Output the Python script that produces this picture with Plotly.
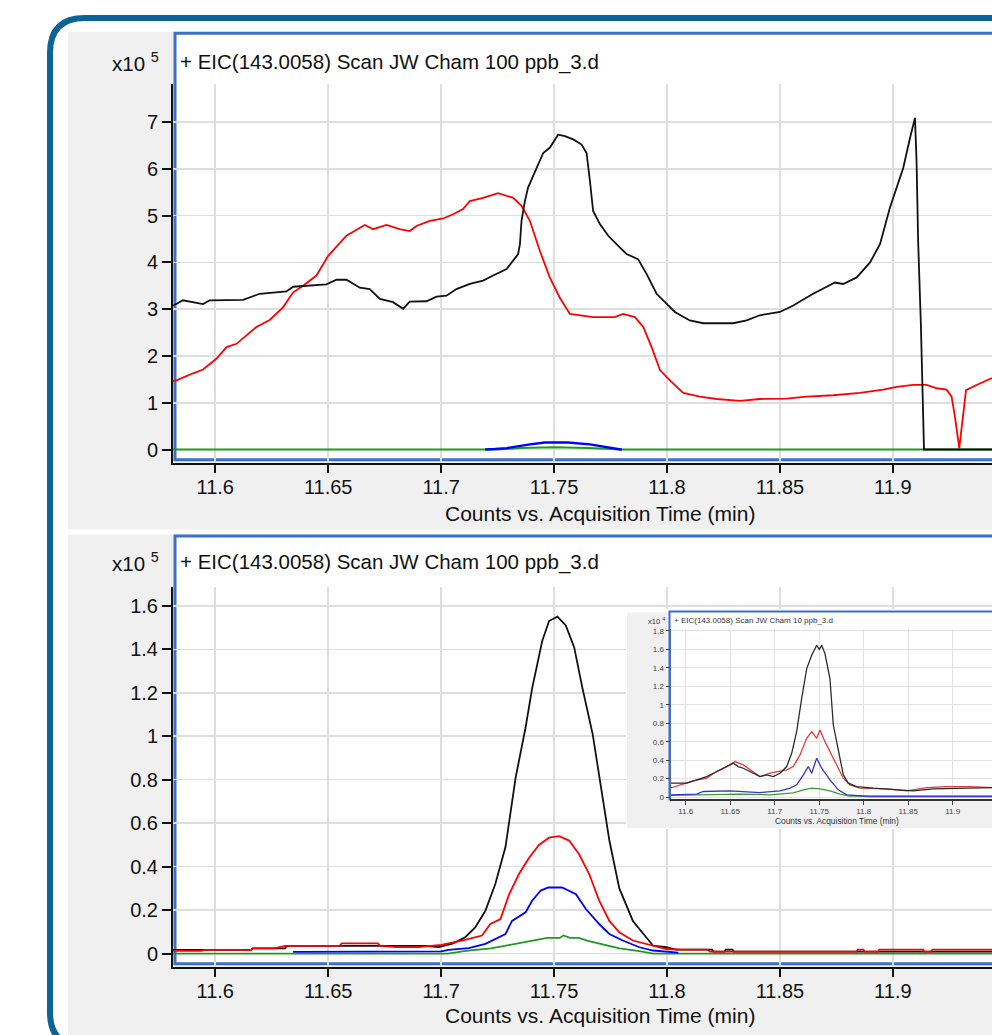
import plotly.graph_objects as go

W, H = 992, 1035

def px(x):
    return x / W

def py(y):
    return 1 - y / H

# ---------------- data: top chart (x10^5 counts) ----------------
top_black_t = [11.5813, 11.5828, 11.5857, 11.5946, 11.5976, 11.6123, 11.6197, 11.6315, 11.6345, 11.6492,
               11.6537, 11.6581, 11.664, 11.6684, 11.6729, 11.6787, 11.6832, 11.6861, 11.6935, 11.698,
               11.7024, 11.7068, 11.7127, 11.7186, 11.723, 11.729, 11.7341, 11.7349, 11.7356, 11.7371,
               11.7385, 11.7422, 11.7452, 11.7481, 11.7518, 11.7548, 11.7585, 11.7622, 11.7644, 11.7659,
               11.7673, 11.7703, 11.774, 11.7791, 11.7821, 11.7872, 11.791, 11.7954, 11.7998, 11.8035,
               11.8101, 11.816, 11.822, 11.8293, 11.8353, 11.8411, 11.85, 11.8559, 11.8647, 11.8707,
               11.8744, 11.878, 11.884, 11.8899, 11.8943, 11.8987, 11.9017, 11.9046, 11.9076, 11.9098,
               11.9105, 11.9112, 11.9124, 11.9132, 11.9138, 11.9439]
top_black_v = [3.08, 3.11, 3.19, 3.11, 3.19, 3.2, 3.33, 3.38, 3.48, 3.53,
               3.63, 3.63, 3.46, 3.43, 3.22, 3.15, 3.01, 3.16, 3.17, 3.27,
               3.29, 3.43, 3.54, 3.61, 3.72, 3.86, 4.18, 4.39, 4.89, 5.31,
               5.6, 6.02, 6.34, 6.45, 6.73, 6.7, 6.63, 6.52, 6.34, 5.74,
               5.1, 4.82, 4.57, 4.32, 4.18, 4.07, 3.75, 3.33, 3.11, 2.94,
               2.76, 2.7, 2.7, 2.7, 2.76, 2.87, 2.94, 3.08, 3.33, 3.47,
               3.57, 3.54, 3.68, 4.0, 4.39, 5.17, 5.6, 6.02, 6.66, 7.09,
               6.16, 4.46, 2.69, 0.88, 0.0, 0.0]

top_red_t = [11.5813, 11.5828, 11.5902, 11.5946, 11.6005, 11.605, 11.6094, 11.6182, 11.6241, 11.63,
             11.6345, 11.6389, 11.6448, 11.65, 11.6581, 11.6662, 11.6699, 11.6758, 11.6817, 11.6861,
             11.6891, 11.695, 11.7009, 11.7053, 11.7097, 11.7127, 11.7186, 11.7252, 11.7319, 11.7356,
             11.7393, 11.7437, 11.7481, 11.7525, 11.757, 11.7673, 11.7769, 11.7806, 11.7858, 11.7895,
             11.7932, 11.7969, 11.8013, 11.8072, 11.8146, 11.822, 11.8323, 11.8411, 11.853, 11.8618,
             11.8736, 11.8854, 11.8957, 11.9017, 11.909, 11.915, 11.9194, 11.9238, 11.926, 11.9275,
             11.9294, 11.9309, 11.9324, 11.9371, 11.9439]
top_red_v = [1.46, 1.48, 1.63, 1.71, 1.94, 2.19, 2.26, 2.62, 2.77, 3.04,
             3.36, 3.5, 3.72, 4.14, 4.57, 4.8, 4.71, 4.8, 4.71, 4.67,
             4.78, 4.89, 4.94, 5.03, 5.14, 5.31, 5.38, 5.48, 5.38, 5.21,
             4.89, 4.25, 3.68, 3.25, 2.9, 2.83, 2.83, 2.9, 2.83, 2.62,
             2.19, 1.7, 1.48, 1.21, 1.13, 1.08, 1.04, 1.08, 1.09, 1.13,
             1.16, 1.21, 1.28, 1.34, 1.38, 1.38, 1.31, 1.28, 1.13, 0.7,
             0.03, 0.7, 1.27, 1.38, 1.53]

top_blue_t = [11.7195, 11.72, 11.7238, 11.729, 11.7326, 11.7393, 11.7459, 11.7561, 11.7659, 11.7716,
              11.7756, 11.7795, 11.78]
top_blue_v = [0.0, 0.0, 0.01, 0.03, 0.06, 0.11, 0.15, 0.15, 0.11, 0.06,
              0.02, 0.0, 0.0]

top_green_t = [11.5813, 11.725, 11.735, 11.75, 11.765, 11.78, 11.9439]
top_green_v = [0.0, 0.0, 0.03, 0.05, 0.03, 0.0, 0.0]

# ---------------- data: bottom chart (x10^5 counts) ----------------
bot_black_t = [11.5813, 11.616, 11.6165, 11.631, 11.6315, 11.693, 11.699, 11.7053, 11.7107, 11.7151,
               11.7196, 11.724, 11.7285, 11.733, 11.7374, 11.7403, 11.7448, 11.7478, 11.7515, 11.7552,
               11.7589, 11.7626, 11.7671, 11.7708, 11.7745, 11.7789, 11.7849, 11.7908, 11.7938, 11.7997,
               11.804, 11.82, 11.8205, 11.8255, 11.826, 11.829, 11.8295, 11.9439]
bot_black_v = [0.017, 0.017, 0.024, 0.024, 0.035, 0.035, 0.03, 0.047, 0.075, 0.12,
               0.197, 0.32, 0.49, 0.81, 1.04, 1.22, 1.44, 1.53, 1.55, 1.51,
               1.41, 1.22, 1.01, 0.76, 0.52, 0.30, 0.15, 0.075, 0.037, 0.029,
               0.018, 0.018, 0.009, 0.009, 0.018, 0.018, 0.009, 0.009]

bot_red_t = [11.5813, 11.594, 11.595, 11.616, 11.6165, 11.626, 11.631, 11.655, 11.656, 11.672,
             11.673, 11.68, 11.69, 11.7, 11.7092, 11.7181, 11.7218, 11.7263, 11.73, 11.7344,
             11.7389, 11.7433, 11.7478, 11.7522, 11.7567, 11.7611, 11.7656, 11.77, 11.7745, 11.7789,
             11.7849, 11.7938, 11.7997, 11.806, 11.818, 11.819, 11.884, 11.8845, 11.887, 11.8875,
             11.8935, 11.894, 11.9135, 11.914, 11.917, 11.9175, 11.9439]
bot_red_v = [0.012, 0.012, 0.017, 0.017, 0.024, 0.024, 0.035, 0.035, 0.047, 0.047,
             0.035, 0.03, 0.03, 0.04, 0.06, 0.083, 0.136, 0.159, 0.27, 0.365,
             0.44, 0.5, 0.533, 0.54, 0.52, 0.457, 0.365, 0.243, 0.15, 0.098,
             0.06, 0.037, 0.021, 0.018, 0.018, 0.009, 0.009, 0.018, 0.018, 0.009,
             0.009, 0.018, 0.018, 0.009, 0.009, 0.018, 0.018]

bot_blue_t = [11.6345, 11.692, 11.7, 11.7033, 11.7122, 11.7196, 11.7285, 11.7314,
              11.7374, 11.7403, 11.7441, 11.7475, 11.7535, 11.7597, 11.7641, 11.77, 11.7745, 11.7804,
              11.7878, 11.7938, 11.8, 11.805]
bot_blue_v = [0.008, 0.008, 0.01, 0.017, 0.025, 0.045, 0.09, 0.15,
              0.19, 0.243, 0.29, 0.304, 0.304, 0.273, 0.205, 0.136, 0.09, 0.06,
              0.029, 0.014, 0.008, 0.004]

bot_green_t = [11.5813, 11.703, 11.711, 11.722, 11.7305, 11.739, 11.747, 11.7525, 11.7542, 11.757,
               11.761, 11.765, 11.772, 11.779, 11.787, 11.794, 11.9439]
bot_green_v = [0.0, 0.0, 0.012, 0.024, 0.04, 0.058, 0.072, 0.072, 0.083, 0.072,
               0.072, 0.058, 0.04, 0.024, 0.012, 0.0, 0.0]

# ---------------- data: inset chart (x10^4 counts) ----------------
ins_black_t = [11.5824, 11.6011, 11.6124, 11.6236, 11.631, 11.6422, 11.6535, 11.6591, 11.6647, 11.676,
               11.6835, 11.691, 11.6984, 11.706, 11.7135, 11.7191, 11.7247, 11.7303, 11.736, 11.7416,
               11.7472, 11.7501, 11.7528, 11.7565, 11.7621, 11.7659, 11.7715, 11.7771, 11.7827, 11.7921,
               11.8108, 11.8333, 11.8557, 11.8782, 11.9007, 11.9232, 11.9442]
ins_black_v = [0.151, 0.151, 0.187, 0.223, 0.259, 0.313, 0.367, 0.331, 0.313, 0.259,
               0.223, 0.241, 0.223, 0.259, 0.331, 0.475, 0.709, 1.068, 1.392, 1.536,
               1.644, 1.6, 1.644, 1.554, 1.284, 0.781, 0.529, 0.241, 0.151, 0.115,
               0.097, 0.079, 0.068, 0.09, 0.097, 0.104, 0.104]

ins_red_t = [11.5824, 11.5936, 11.6086, 11.6236, 11.6348, 11.6461, 11.6554, 11.6647, 11.676, 11.6835,
             11.6947, 11.706, 11.7135, 11.7209, 11.7284, 11.736, 11.7416, 11.7472, 11.7509, 11.7565,
             11.764, 11.7715, 11.7771, 11.7846, 11.7958, 11.8258, 11.8483, 11.8708, 11.8933, 11.9195,
             11.9442]
ins_red_v = [0.097, 0.133, 0.176, 0.205, 0.277, 0.331, 0.385, 0.349, 0.277, 0.223,
             0.259, 0.277, 0.295, 0.331, 0.457, 0.637, 0.709, 0.637, 0.727, 0.601,
             0.457, 0.313, 0.205, 0.133, 0.097, 0.09, 0.068, 0.104, 0.115, 0.115,
             0.104]

ins_blue_t = [11.5824, 11.6124, 11.6198, 11.6498, 11.6835, 11.706, 11.7172, 11.7247, 11.7322, 11.7378,
              11.7416, 11.7472, 11.7528, 11.7621, 11.7715, 11.7809, 11.8071, 11.9442]
ins_blue_v = [0.025, 0.032, 0.061, 0.068, 0.05, 0.068, 0.097, 0.133, 0.241, 0.331,
              0.259, 0.421, 0.313, 0.187, 0.079, 0.025, 0.007, 0.007]

ins_green_t = [11.5824, 11.6198, 11.661, 11.6947, 11.7209, 11.7322, 11.7416, 11.7509, 11.7621, 11.7734,
               11.7846, 11.9442]
ins_green_v = [0.018, 0.025, 0.032, 0.025, 0.047, 0.079, 0.097, 0.09, 0.068, 0.032,
               0.011, 0.011]

# ---------------- axis labels ----------------
x_ticks = [11.6, 11.65, 11.7, 11.75, 11.8, 11.85, 11.9]
x_labels = ["11.6", "11.65", "11.7", "11.75", "11.8", "11.85", "11.9"]
top_y_ticks = [0, 1, 2, 3, 4, 5, 6, 7]
top_y_labels = ["0", "1", "2", "3", "4", "5", "6", "7"]
bot_y_ticks = [0, 0.2, 0.4, 0.6, 0.8, 1.0, 1.2, 1.4, 1.6]
bot_y_labels = ["0", "0.2", "0.4", "0.6", "0.8", "1", "1.2", "1.4", "1.6"]
ins_y_ticks = [0, 0.2, 0.4, 0.6, 0.8, 1.0, 1.2, 1.4, 1.6, 1.8]
ins_y_labels = ["0", "0.2", "0.4", "0.6", "0.8", "1", "1.2", "1.4", "1.6", "1.8"]

title_main = "+ EIC(143.0058) Scan JW Cham 100 ppb_3.d"
title_inset = "+ EIC(143.0058) Scan JW Cham 10 ppb_3.d"
x_title = "Counts vs. Acquisition Time (min)"

# ---------------- styling ----------------
FONT = "Liberation Sans, Arial, sans-serif"
BLACK = "#111111"
RED = "#ff0000"
BLUE = "#0000ff"
GREEN = "#1f9a1f"
GRID = "#dedede"
PANEL = "#f0f0f0"
BOXBLUE = "#3d6fc8"
FRAME = "#0d6297"
TICKSIZE = 20
TITLESIZE = 20.5

fig = go.Figure()

def add(t, v, color, xa, ya, width=1.8):
    fig.add_trace(go.Scatter(x=t, y=v, mode="lines", xaxis=xa, yaxis=ya,
                             line=dict(color=color, width=width), hoverinfo="skip",
                             showlegend=False))

# top chart
add(top_green_t, top_green_v, GREEN, "x", "y", 2.0)
add(top_blue_t, top_blue_v, BLUE, "x", "y", 2.4)
add(top_red_t, top_red_v, RED, "x", "y")
add(top_black_t, top_black_v, BLACK, "x", "y")
# bottom chart
add(bot_green_t, bot_green_v, GREEN, "x2", "y2")
add(bot_blue_t, bot_blue_v, BLUE, "x2", "y2")
add(bot_black_t, bot_black_v, BLACK, "x2", "y2")
add(bot_red_t, bot_red_v, RED, "x2", "y2")
# inset chart
add(ins_green_t, ins_green_v, "#3a9a3a", "x4", "y4", 1.3)
add(ins_blue_t, ins_blue_v, "#3535d0", "x4", "y4", 1.3)
add(ins_red_t, ins_red_v, "#e23c3c", "x4", "y4", 1.3)
add(ins_black_t, ins_black_v, "#2a2a2a", "x4", "y4", 1.3)

XR = [11.5813, 11.9439]

def xaxis_cfg(domain_left, anchor):
    return dict(domain=[px(domain_left), 1], range=XR, anchor=anchor,
                tickmode="array", tickvals=x_ticks, ticktext=x_labels,
                ticks="outside", ticklen=8, tickwidth=2, tickcolor=BLACK,
                ticklabelstandoff=-3,
                showline=True, linecolor=BLACK, linewidth=2,
                showgrid=True, gridcolor=GRID, gridwidth=1.5, zeroline=False,
                tickfont=dict(family=FONT, size=TICKSIZE, color=BLACK), fixedrange=True)

def yaxis_cfg(top, bottom, rng, vals, labels, anchor):
    return dict(domain=[py(bottom), py(top)], range=rng, anchor=anchor,
                tickmode="array", tickvals=vals, ticktext=labels,
                ticks="outside", ticklen=9, tickwidth=2, tickcolor=BLACK,
                showline=True, linecolor=BLACK, linewidth=2,
                showgrid=True, gridcolor=GRID, gridwidth=1.5, zeroline=False,
                tickfont=dict(family=FONT, size=TICKSIZE, color=BLACK), fixedrange=True)

layout = dict(
    width=W, height=H, margin=dict(l=0, r=0, t=0, b=0),
    paper_bgcolor="white", plot_bgcolor="white", showlegend=False,
    xaxis=xaxis_cfg(173, "y"),
    yaxis=yaxis_cfg(82, 463, [-0.283, 7.823], top_y_ticks, top_y_labels, "x"),
    xaxis2=xaxis_cfg(173, "y2"),
    yaxis2=yaxis_cfg(588, 969.5, [-0.061, 1.686], bot_y_ticks, bot_y_labels, "x2"),
    # dummy subplot that hosts the inset's grey backing panel
    xaxis3=dict(domain=[px(626), 1], range=[626, 992], anchor="y3", visible=False, fixedrange=True),
    yaxis3=dict(domain=[py(831), py(610)], range=[831, 610], anchor="x3", visible=False, fixedrange=True),
    # inset chart
    xaxis4=dict(domain=[px(671), 1], range=[11.5835, 11.9442], anchor="y4",
                tickmode="array", tickvals=x_ticks, ticktext=x_labels,
                ticks="outside", ticklen=4, tickwidth=1, tickcolor="#444",
                showline=True, linecolor="#333", linewidth=1.5,
                showgrid=True, gridcolor="#e2e2e2", gridwidth=1, zeroline=False,
                tickfont=dict(family=FONT, size=8, color="#444"), fixedrange=True),
    yaxis4=dict(domain=[py(801), py(630)], range=[-0.0215, 1.821], anchor="x4",
                tickmode="array", tickvals=ins_y_ticks, ticktext=ins_y_labels,
                ticks="outside", ticklen=4, tickwidth=1, tickcolor="#444",
                showline=True, linecolor="#4a6fb8", linewidth=1.5,
                showgrid=True, gridcolor="#e2e2e2", gridwidth=1, zeroline=False,
                tickfont=dict(family=FONT, size=8, color="#444"), fixedrange=True),
)
fig.update_layout(**layout)

# ---------------- decorations ----------------
def prect(x0, y0, x1, y1, fill, line_color=None, line_width=0, layer="below"):
    fig.add_shape(type="rect", xref="paper", yref="paper",
                  x0=px(x0), x1=px(x1), y0=py(y1), y1=py(y0),
                  fillcolor=fill, layer=layer,
                  line=dict(color=line_color or fill, width=line_width))

# grey panels
prect(68, 30, 1000, 530, PANEL)
prect(68, 535, 1000, 1045, PANEL)
# white plotting boxes with blue border
prect(175, 31.5, 1000, 460, "white", BOXBLUE, 3)
prect(175, 536.5, 1000, 966.5, "white", BOXBLUE, 3)

# outer rounded frame
def P(x, y):
    return f"{px(x):.5f},{py(y):.5f}"
frame_path = (f"M {P(1100, 16)} L {P(85, 16)} Q {P(50, 16)} {P(50, 51)} "
              f"L {P(50, 1015)} Q {P(50, 1050)} {P(85, 1050)} L {P(1100, 1050)}")
fig.add_shape(type="path", xref="paper", yref="paper", path=frame_path,
              line=dict(color=FRAME, width=6), layer="below")

# inset backing (drawn in the dummy subplot so it covers main grid lines)
fig.add_shape(type="rect", xref="x3", yref="y3", x0=627, x1=995, y0=613.5, y1=830,
              fillcolor=PANEL, line=dict(width=0), layer="below")
fig.add_shape(type="rect", xref="x3", yref="y3", x0=669.5, x1=1000, y0=612.5, y1=801.5,
              fillcolor="white", line=dict(color=BOXBLUE, width=2), layer="below")

# ---------------- text ----------------
def ann(x, y, text, size, xanchor="left", color=BLACK):
    fig.add_annotation(x=px(x), y=py(y), xref="paper", yref="paper", text=text,
                       showarrow=False, xanchor=xanchor, yanchor="middle",
                       font=dict(family=FONT, size=size, color=color))

ann(161, 60, "x10 <sup>5</sup>", TITLESIZE, "right")
ann(178, 60, title_main, TITLESIZE)
ann(600, 514, x_title, 21, "center")
ann(161, 563, "x10 <sup>5</sup>", TITLESIZE, "right")
ann(178, 563, title_main, TITLESIZE)
ann(600, 1018, x_title, 21, "center")
# inset
ann(667, 622, "x10 <sup>4</sup>", 7.5, "right", "#333")
ann(672, 622, title_inset, 8, "left", "#333")
ann(837, 823, x_title, 8.4, "center", "#333")

fig.write_html("out.html",
               config={"displayModeBar": False, "staticPlot": True},
               post_script="document.body.style.margin='0';document.body.style.overflow='hidden';")
